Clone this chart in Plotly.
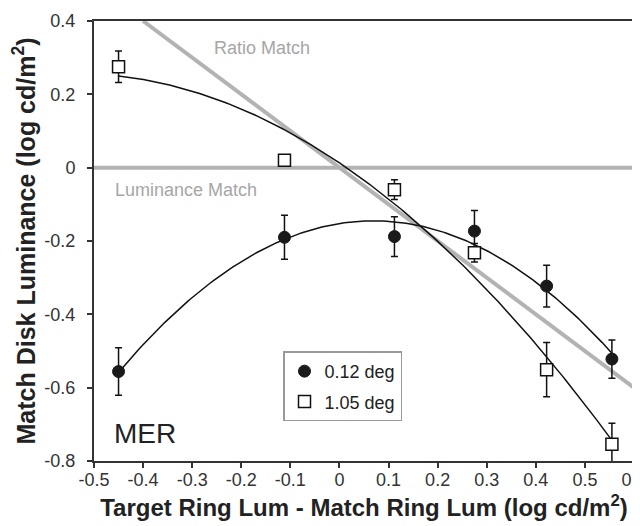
import numpy as np
import plotly.graph_objects as go

# ---- data ----
x_vals = [-0.45, -0.112, 0.112, 0.275, 0.422, 0.555]
small_y = [-0.556, -0.190, -0.188, -0.173, -0.323, -0.522]   # 0.12 deg
small_err = [0.065, 0.060, 0.054, 0.056, 0.057, 0.052]
large_y = [0.275, 0.020, -0.060, -0.232, -0.551, -0.754]     # 1.05 deg
large_err = [0.043, 0.010, 0.027, 0.025, 0.074, 0.057]

ratio_x = [-0.4, 0.6]
ratio_y = [0.4, -0.6]
lum_x = [-0.5, 0.6]
lum_y = [0.0, 0.0]

x_ticks = [-0.5, -0.4, -0.3, -0.2, -0.1, 0.0, 0.1, 0.2, 0.3, 0.4, 0.5, 0.6]
x_tick_labels = ["-0.5", "-0.4", "-0.3", "-0.2", "-0.1", "0", "0.1", "0.2", "0.3", "0.4", "0.5", "0.6"]
y_ticks = [0.4, 0.2, 0.0, -0.2, -0.4, -0.6, -0.8]
y_tick_labels = ["0.4", "0.2", "0", "-0.2", "-0.4", "-0.6", "-0.8"]

FONT = "Liberation Sans, Arial, sans-serif"
GRAY = "#b3b3b3"

fig = go.Figure()

# reference lines
fig.add_trace(go.Scatter(x=lum_x, y=lum_y, mode="lines",
                         line=dict(color=GRAY, width=4), showlegend=False, hoverinfo="skip"))
fig.add_trace(go.Scatter(x=ratio_x, y=ratio_y, mode="lines",
                         line=dict(color=GRAY, width=4), showlegend=False, hoverinfo="skip"))

# 2nd order polynomial trendlines fitted to the data
xs = np.linspace(min(x_vals), max(x_vals), 200)
for yy in (small_y, large_y):
    c = np.polyfit(x_vals, yy, 2)
    fig.add_trace(go.Scatter(x=xs, y=np.polyval(c, xs), mode="lines",
                             line=dict(color="#111111", width=1.5),
                             showlegend=False, hoverinfo="skip"))

err_style = dict(type="data", visible=True, color="#111111", thickness=1.5, width=3.5)

fig.add_trace(go.Scatter(x=x_vals, y=small_y, mode="markers", name="0.12 deg",
                         legendgroup="a",
                         error_y=dict(array=small_err, **err_style),
                         marker=dict(symbol="circle", size=12, color="#1a1a1a",
                                     line=dict(color="#1a1a1a", width=1))))
fig.add_trace(go.Scatter(x=x_vals, y=large_y, mode="markers", name="1.05 deg",
                         legendgroup="b",
                         error_y=dict(array=large_err, **err_style),
                         marker=dict(symbol="square", size=12, color="white",
                                     line=dict(color="#111111", width=1.5))))

fig.add_annotation(x=-0.259, y=0.326, text="Ratio Match", showarrow=False,
                   xanchor="left", yanchor="middle",
                   font=dict(family=FONT, size=18, color="#a6a6a6"))
fig.add_annotation(x=-0.461, y=-0.061, text="Luminance Match", showarrow=False,
                   xanchor="left", yanchor="middle",
                   font=dict(family=FONT, size=18, color="#a6a6a6"))
fig.add_annotation(x=-0.463, y=-0.724, text="MER", showarrow=False,
                   xanchor="left", yanchor="middle",
                   font=dict(family=FONT, size=28, color="#222222"))

axis_common = dict(showline=True, linecolor="#333333", linewidth=2, mirror=True,
                   ticks="outside", ticklen=5, tickwidth=1.5, tickcolor="#333333",
                   showgrid=False, zeroline=False, automargin=False,
                   tickfont=dict(family=FONT, size=18, color="#333333"))

fig.update_layout(
    template="none",
    width=640, height=526,
    margin=dict(l=86, r=14, t=13, b=73),
    paper_bgcolor="white", plot_bgcolor="white",
    showlegend=True,
    legend=dict(x=0.35, y=0.249, xanchor="left", yanchor="top",
                bordercolor="#999999", borderwidth=1.5, bgcolor="white",
                font=dict(family=FONT, size=18, color="#222222"),
                tracegroupgap=4, traceorder="grouped"),
    xaxis=dict(range=[-0.5, 0.6], tickvals=x_ticks, ticktext=x_tick_labels,
               ticklabelstandoff=-4,
               title=dict(text="<b>Target Ring Lum - Match Ring Lum (log cd/m<sup>2</sup>)</b>",
                          font=dict(family=FONT, size=24, color="#222222"), standoff=11),
               **axis_common),
    yaxis=dict(range=[-0.8, 0.4], tickvals=y_ticks, ticktext=y_tick_labels,
               ticklabelstandoff=8,
               title=dict(text="<b>Match Disk Luminance (log cd/m<sup>2</sup>)</b>",
                          font=dict(family=FONT, size=25, color="#222222"), standoff=4),
               **axis_common),
)

fig.write_html("out.html")
